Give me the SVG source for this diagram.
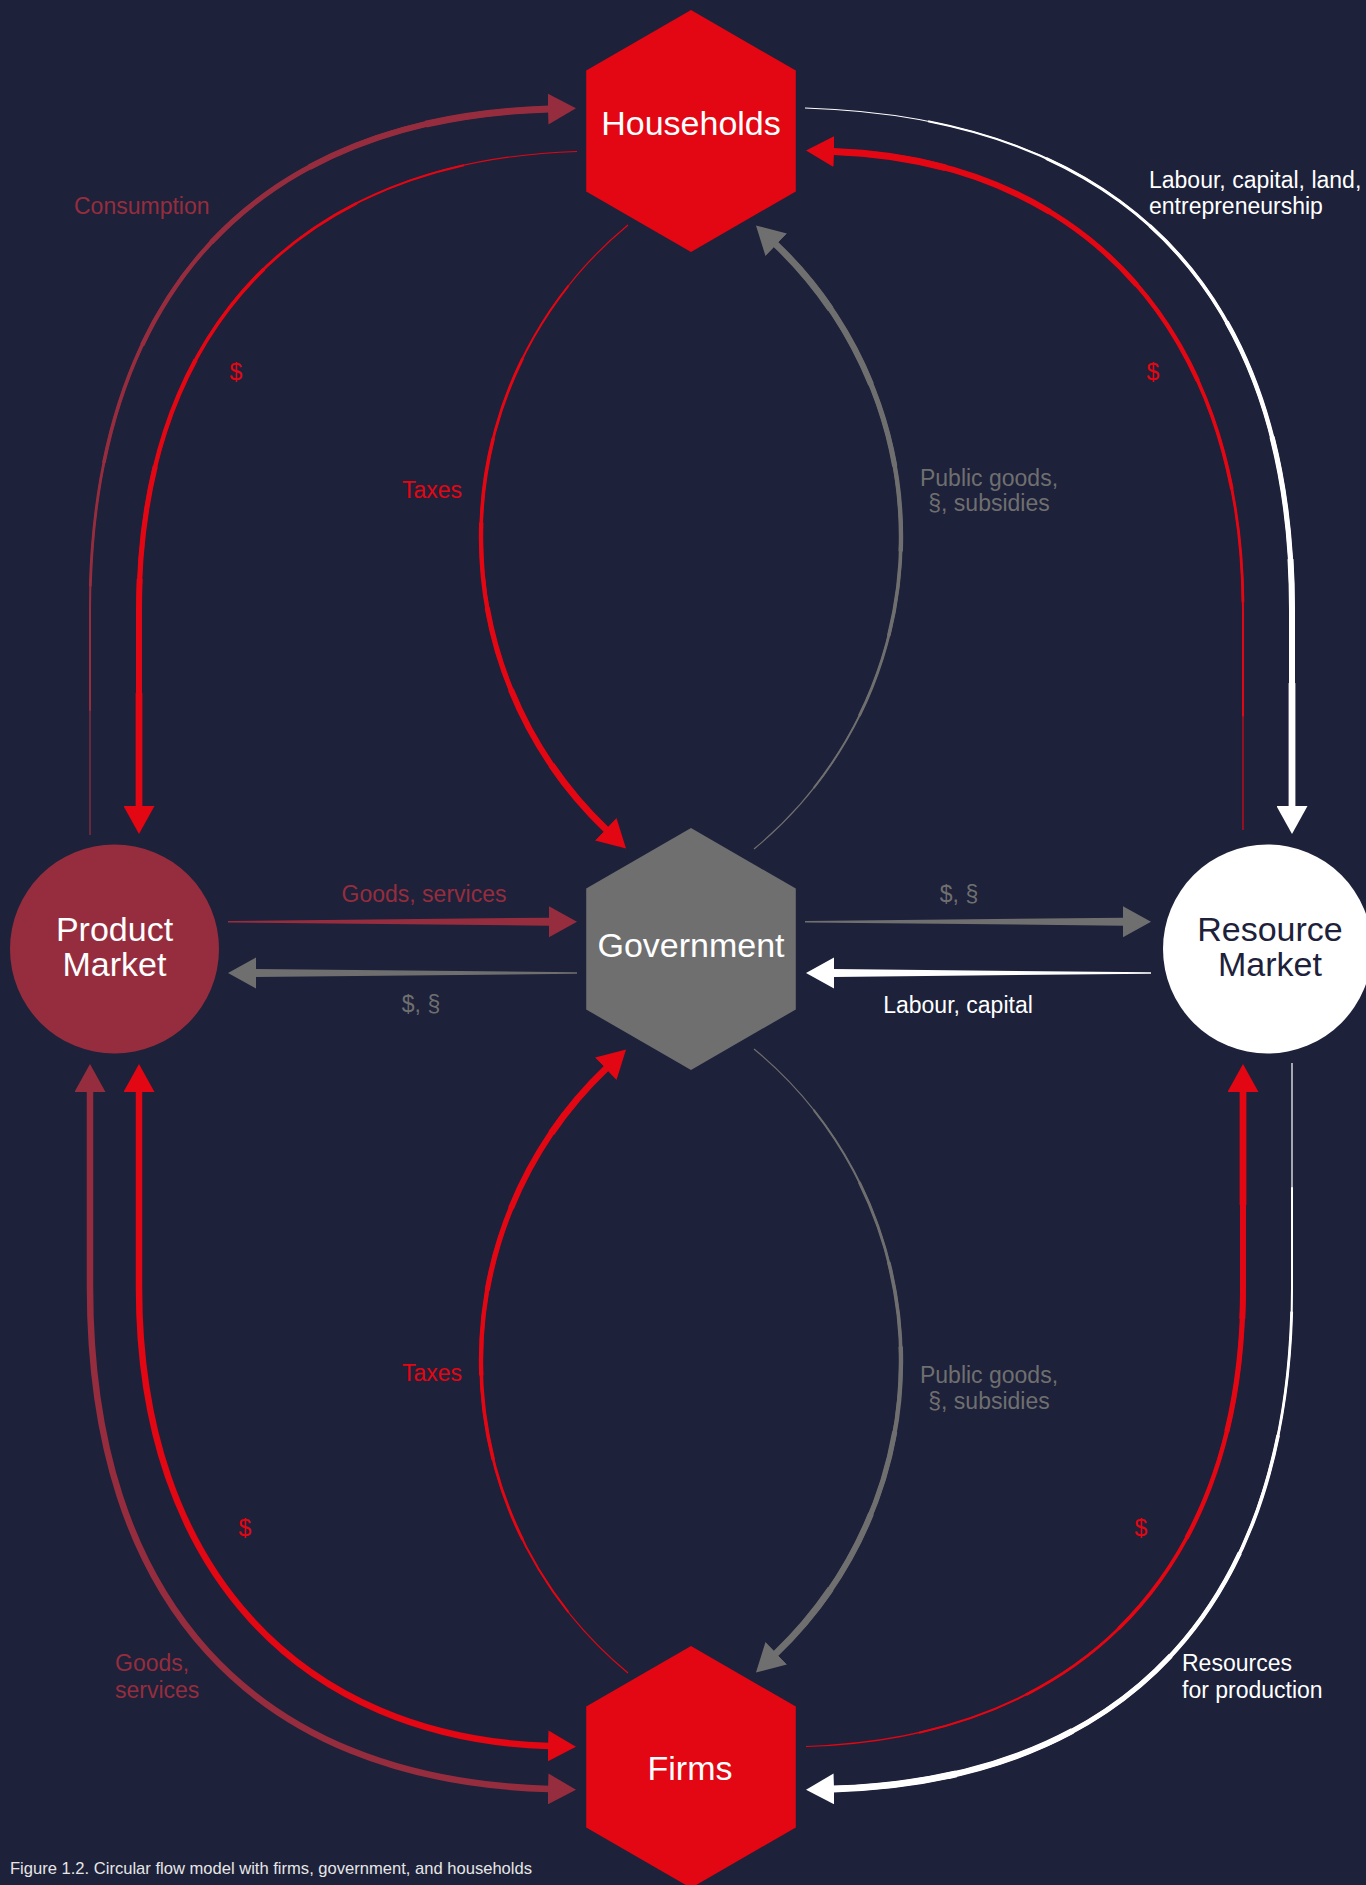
<svg xmlns="http://www.w3.org/2000/svg" width="1366" height="1885" viewBox="0 0 1366 1885">
  <defs>
    <style>
      text { font-family: "Liberation Sans", Arial, Helvetica, sans-serif; }
      .lbl { font-size: 23px; }
      .mid { text-anchor: middle; }
      .nt { font-size: 34px; text-anchor: middle; }
      .cap { font-size: 17px; fill: #e6e6e6; }
      .f-red { fill: #e30613; }
      .f-dr { fill: #962d3e; }
      .f-gray { fill: #6f6f6f; }
      .f-white { fill: #ffffff; }
      .f-navy { fill: #1d213a; }
      .ln { fill: none; stroke-linecap: butt; stroke-linejoin: round; }
      .s-red { stroke: #e30613; }
      .s-dr { stroke: #962d3e; }
      .s-gray { stroke: #6f6f6f; }
      .s-white { stroke: #ffffff; }
      /* tapering: each step redraws the tail of the path a little thicker */
      .k0 { stroke-width: 1.2; }
      .k1 { stroke-width: 2.0; stroke-dasharray: 0 12.5 200; }
      .k2 { stroke-width: 2.8; stroke-dasharray: 0 25 200; }
      .k3 { stroke-width: 3.6; stroke-dasharray: 0 37.5 200; }
      .k4 { stroke-width: 4.4; stroke-dasharray: 0 50 200; }
      .k5 { stroke-width: 5.2; stroke-dasharray: 0 62.5 200; }
      .k6 { stroke-width: 6.0; stroke-dasharray: 0 75 200; }
      .k7 { stroke-width: 6.8; stroke-dasharray: 0 87.5 200; }
      .uni { stroke-width: 6.5; }
      .ae-red { marker-end: url(#ah-red); }
      .ae-dr { marker-end: url(#ah-dr); }
      .ae-gray { marker-end: url(#ah-gray); }
      .ae-white { marker-end: url(#ah-white); }
      .as-red { marker-start: url(#ah-red); }
      .as-dr { marker-start: url(#ah-dr); }
    </style>

    <marker id="ah-red" viewBox="0 0 28 31" refX="1" refY="15.5" markerWidth="28" markerHeight="31" markerUnits="userSpaceOnUse" orient="auto-start-reverse">
      <path d="M0 0L28 15.5L0 31Z" fill="#e30613"/>
    </marker>
    <marker id="ah-dr" viewBox="0 0 28 31" refX="1" refY="15.5" markerWidth="28" markerHeight="31" markerUnits="userSpaceOnUse" orient="auto-start-reverse">
      <path d="M0 0L28 15.5L0 31Z" fill="#962d3e"/>
    </marker>
    <marker id="ah-gray" viewBox="0 0 28 31" refX="1" refY="15.5" markerWidth="28" markerHeight="31" markerUnits="userSpaceOnUse" orient="auto-start-reverse">
      <path d="M0 0L28 15.5L0 31Z" fill="#6f6f6f"/>
    </marker>
    <marker id="ah-white" viewBox="0 0 28 31" refX="1" refY="15.5" markerWidth="28" markerHeight="31" markerUnits="userSpaceOnUse" orient="auto-start-reverse">
      <path d="M0 0L28 15.5L0 31Z" fill="#ffffff"/>
    </marker>

    <!-- connector routes; each ends at the base of its arrowhead -->
    <path id="r-consumption" pathLength="100" d="M90 835L90 610C90 300 250 118 549 109"/>
    <path id="r-hh-pm" pathLength="100" d="M577 151.5C300 160 139 330 139 610L139 807"/>
    <path id="r-tax-top" pathLength="100" d="M628 225A404.6 404.6 0 0 0 606.5 829.9"/>
    <path id="r-pub-top" pathLength="100" d="M754 849A404.6 404.6 0 0 0 775.5 244.1"/>
    <path id="r-labour" pathLength="100" d="M805 108C1132 118 1292 300 1292 610L1292 807"/>
    <path id="r-rm-hh" pathLength="100" d="M1243 830L1243 610C1243 330 1082 160 833 151.5"/>
    <path id="r-goods" pathLength="100" d="M90 1091L90 1288C90 1598 250 1780 549 1789"/>
    <path id="r-firm-pm" pathLength="100" d="M549 1746C300 1738 139 1568 139 1288L139 1091"/>
    <path id="r-tax-bot" pathLength="100" d="M628 1673A404.6 404.6 0 0 1 606.5 1068.1"/>
    <path id="r-pub-bot" pathLength="100" d="M754 1049A404.6 404.6 0 0 1 775.5 1653.9"/>
    <path id="r-firm-rm" pathLength="100" d="M806 1746.5C1082 1738 1243 1568 1243 1288L1243 1091"/>
    <path id="r-resources" pathLength="100" d="M1292 1063L1292 1288C1292 1598 1132 1780 833 1789"/>
  </defs>

  <rect class="f-navy" x="0" y="0" width="1366" height="1885"/>

  <g id="connectors">
    <!-- Consumption: Product Market to Households -->
    <g class="ln s-dr">
      <use href="#r-consumption" class="k0"/><use href="#r-consumption" class="k1"/>
      <use href="#r-consumption" class="k2"/><use href="#r-consumption" class="k3"/>
      <use href="#r-consumption" class="k4"/><use href="#r-consumption" class="k5"/>
      <use href="#r-consumption" class="k6"/><use href="#r-consumption" class="k7 ae-dr"/>
    </g>
    <!-- $: Households to Product Market -->
    <g class="ln s-red">
      <use href="#r-hh-pm" class="k0"/><use href="#r-hh-pm" class="k1"/>
      <use href="#r-hh-pm" class="k2"/><use href="#r-hh-pm" class="k3"/>
      <use href="#r-hh-pm" class="k4"/><use href="#r-hh-pm" class="k5"/>
      <use href="#r-hh-pm" class="k6"/><use href="#r-hh-pm" class="k7 ae-red"/>
    </g>
    <!-- Taxes: Households to Government -->
    <g class="ln s-red">
      <use href="#r-tax-top" class="k0"/><use href="#r-tax-top" class="k1"/>
      <use href="#r-tax-top" class="k2"/><use href="#r-tax-top" class="k3"/>
      <use href="#r-tax-top" class="k4"/><use href="#r-tax-top" class="k5"/>
      <use href="#r-tax-top" class="k6"/><use href="#r-tax-top" class="k7 ae-red"/>
    </g>
    <!-- Public goods: Government to Households -->
    <g class="ln s-gray">
      <use href="#r-pub-top" class="k0"/><use href="#r-pub-top" class="k1"/>
      <use href="#r-pub-top" class="k2"/><use href="#r-pub-top" class="k3"/>
      <use href="#r-pub-top" class="k4"/><use href="#r-pub-top" class="k5"/>
      <use href="#r-pub-top" class="k6"/><use href="#r-pub-top" class="k7 ae-gray"/>
    </g>
    <!-- Labour, capital, land: Households to Resource Market -->
    <g class="ln s-white">
      <use href="#r-labour" class="k0"/><use href="#r-labour" class="k1"/>
      <use href="#r-labour" class="k2"/><use href="#r-labour" class="k3"/>
      <use href="#r-labour" class="k4"/><use href="#r-labour" class="k5"/>
      <use href="#r-labour" class="k6"/><use href="#r-labour" class="k7 ae-white"/>
    </g>
    <!-- $: Resource Market to Households -->
    <g class="ln s-red">
      <use href="#r-rm-hh" class="k0"/><use href="#r-rm-hh" class="k1"/>
      <use href="#r-rm-hh" class="k2"/><use href="#r-rm-hh" class="k3"/>
      <use href="#r-rm-hh" class="k4"/><use href="#r-rm-hh" class="k5"/>
      <use href="#r-rm-hh" class="k6"/><use href="#r-rm-hh" class="k7 ae-red"/>
    </g>

    <!-- Goods, services and $: Firms and Product Market, both directions -->
    <use href="#r-goods" class="ln s-dr uni as-dr ae-dr"/>
    <use href="#r-firm-pm" class="ln s-red uni as-red ae-red"/>

    <!-- Taxes: Firms to Government -->
    <g class="ln s-red">
      <use href="#r-tax-bot" class="k0"/><use href="#r-tax-bot" class="k1"/>
      <use href="#r-tax-bot" class="k2"/><use href="#r-tax-bot" class="k3"/>
      <use href="#r-tax-bot" class="k4"/><use href="#r-tax-bot" class="k5"/>
      <use href="#r-tax-bot" class="k6"/><use href="#r-tax-bot" class="k7 ae-red"/>
    </g>
    <!-- Public goods: Government to Firms -->
    <g class="ln s-gray">
      <use href="#r-pub-bot" class="k0"/><use href="#r-pub-bot" class="k1"/>
      <use href="#r-pub-bot" class="k2"/><use href="#r-pub-bot" class="k3"/>
      <use href="#r-pub-bot" class="k4"/><use href="#r-pub-bot" class="k5"/>
      <use href="#r-pub-bot" class="k6"/><use href="#r-pub-bot" class="k7 ae-gray"/>
    </g>
    <!-- $: Firms to Resource Market -->
    <g class="ln s-red">
      <use href="#r-firm-rm" class="k0"/><use href="#r-firm-rm" class="k1"/>
      <use href="#r-firm-rm" class="k2"/><use href="#r-firm-rm" class="k3"/>
      <use href="#r-firm-rm" class="k4"/><use href="#r-firm-rm" class="k5"/>
      <use href="#r-firm-rm" class="k6"/><use href="#r-firm-rm" class="k7 ae-red"/>
    </g>
    <!-- Resources for production: Resource Market to Firms -->
    <g class="ln s-white">
      <use href="#r-resources" class="k0"/><use href="#r-resources" class="k1"/>
      <use href="#r-resources" class="k2"/><use href="#r-resources" class="k3"/>
      <use href="#r-resources" class="k4"/><use href="#r-resources" class="k5"/>
      <use href="#r-resources" class="k6"/><use href="#r-resources" class="k7 ae-white"/>
    </g>

    <!-- straight tapered arrows through the middle row -->
    <path class="f-dr" d="M228 921L549 917.7L549 906.2L577 921.7L549 937.2L549 925.7L228 922.4Z"/>
    <path class="f-gray" d="M577 972.3L256 969L256 957.5L228 973L256 988.5L256 977L577 973.7Z"/>
    <path class="f-gray" d="M805 921L1123 917.7L1123 906.2L1151 921.7L1123 937.2L1123 925.7L805 922.4Z"/>
    <path class="f-white" d="M1151 972.3L834 969L834 957.5L806 973L834 988.5L834 977L1151 973.7Z"/>
  </g>

  <g id="node-households">
    <polygon class="f-red" points="691,10 795.8,70.5 795.8,191.5 691,252 586.2,191.5 586.2,70.5"/>
    <text class="nt f-white" x="691" y="135">Households</text>
  </g>
  <g id="node-government">
    <polygon class="f-gray" points="691,828 795.8,888.5 795.8,1009.5 691,1070 586.2,1009.5 586.2,888.5"/>
    <text class="nt f-white" x="691" y="957">Government</text>
  </g>
  <g id="node-firms">
    <polygon class="f-red" points="691,1646 795.8,1706.5 795.8,1827.5 691,1888 586.2,1827.5 586.2,1706.5"/>
    <text class="nt f-white" x="690" y="1780">Firms</text>
  </g>
  <g id="node-product-market">
    <circle class="f-dr" cx="114.5" cy="949" r="104.5"/>
    <text class="nt f-white" x="114.5" y="941">Product</text>
    <text class="nt f-white" x="114.5" y="976">Market</text>
  </g>
  <g id="node-resource-market">
    <circle class="f-white" cx="1267.5" cy="949" r="104.5"/>
    <text class="nt f-navy" x="1270" y="941">Resource</text>
    <text class="nt f-navy" x="1270" y="976">Market</text>
  </g>

  <g id="labels" class="lbl">
    <text class="f-dr" x="74" y="214">Consumption</text>
    <text class="f-red mid" x="236" y="380">$</text>
    <text class="f-red mid" x="432" y="498">Taxes</text>
    <text class="f-gray mid" x="989" y="486">Public goods,</text>
    <text class="f-gray mid" x="989" y="511">§, subsidies</text>
    <text class="f-white" x="1149" y="188">Labour, capital, land,</text>
    <text class="f-white" x="1149" y="214">entrepreneurship</text>
    <text class="f-red mid" x="1153" y="380">$</text>

    <text class="f-dr mid" x="424" y="902">Goods, services</text>
    <text class="f-gray mid" x="421" y="1012">$, §</text>
    <text class="f-gray mid" x="959" y="902">$, §</text>
    <text class="f-white mid" x="958" y="1013">Labour, capital</text>

    <text class="f-red mid" x="432" y="1381">Taxes</text>
    <text class="f-gray mid" x="989" y="1383">Public goods,</text>
    <text class="f-gray mid" x="989" y="1409">§, subsidies</text>
    <text class="f-red mid" x="245" y="1536">$</text>
    <text class="f-red mid" x="1141" y="1536">$</text>
    <text class="f-dr" x="115" y="1671">Goods,</text>
    <text class="f-dr" x="115" y="1698">services</text>
    <text class="f-white" x="1182" y="1671">Resources</text>
    <text class="f-white" x="1182" y="1698">for production</text>
  </g>

  <text class="cap" x="10" y="1874" textLength="522" lengthAdjust="spacingAndGlyphs">Figure 1.2. Circular flow model with firms, government, and households</text>
</svg>
